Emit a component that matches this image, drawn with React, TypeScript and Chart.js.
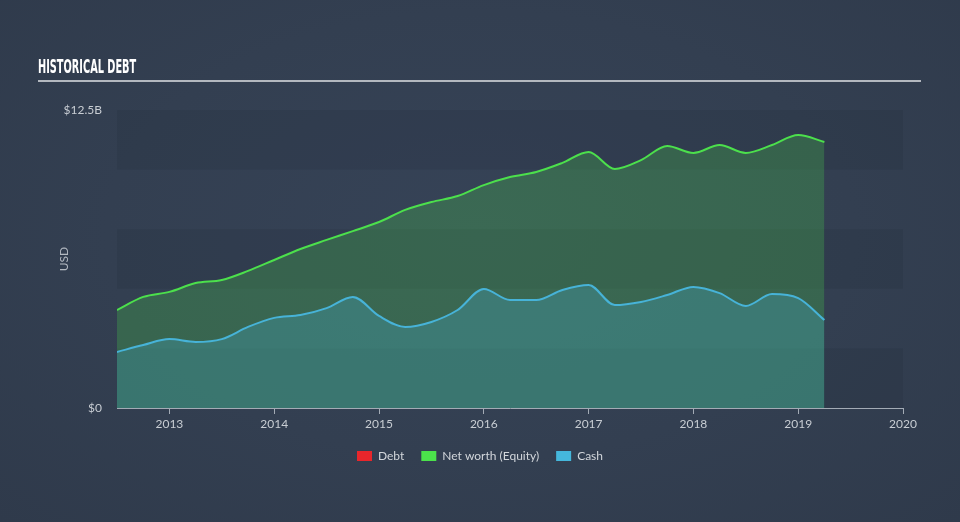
import React, { useEffect, useRef } from "react";
import { Chart, registerables } from "chart.js";

Chart.register(...registerables);

// Quarter-end periods (decimal years)
const periods = [
  2012.5, 2012.75, 2013.0, 2013.25, 2013.5, 2013.75, 2014.0, 2014.25, 2014.5, 2014.75,
  2015.0, 2015.25, 2015.5, 2015.75, 2016.0, 2016.25, 2016.5, 2016.75, 2017.0, 2017.25,
  2017.5, 2017.75, 2018.0, 2018.25, 2018.5, 2018.75, 2019.0, 2019.25,
];
// Values in USD billions
const netWorth = [
  4.11, 4.66, 4.87, 5.24, 5.37, 5.75, 6.21, 6.67, 7.05, 7.42,
  7.8, 8.31, 8.64, 8.89, 9.35, 9.69, 9.9, 10.28, 10.74, 10.03,
  10.4, 10.99, 10.7, 11.03, 10.7, 11.03, 11.45, 11.16,
];
const cash = [
  2.35, 2.64, 2.89, 2.77, 2.89, 3.4, 3.78, 3.9, 4.19, 4.66,
  3.86, 3.4, 3.61, 4.11, 4.99, 4.53, 4.53, 4.95, 5.16, 4.32,
  4.45, 4.74, 5.08, 4.82, 4.28, 4.78, 4.61, 3.69,
];
const debt: number[] = [];
const yearTicks = [2013, 2014, 2015, 2016, 2017, 2018, 2019, 2020];
const yTickLabels: Record<string, string> = { "0": "$0", "12.5": "$12.5B" };

const FONT = "Lato, 'Open Sans', 'DejaVu Sans', sans-serif";

const bandsPlugin = {
  id: "bands",
  beforeDatasetsDraw(chart: any) {
    const { ctx, chartArea } = chart;
    const y = chart.scales.y;
    const ranges = [
      [0, 2.5],
      [5, 7.5],
      [10, 12.5],
    ];
    ctx.save();
    ctx.fillStyle = "rgba(25,35,50,0.14)";
    for (const [a, b] of ranges) {
      const top = y.getPixelForValue(b);
      const bot = y.getPixelForValue(a);
      ctx.fillRect(chartArea.left, top, chartArea.right - chartArea.left, bot - top);
    }
    ctx.restore();
  },
};

export default function App() {
  const canvasRef = useRef<HTMLCanvasElement | null>(null);
  const titleRef = useRef<HTMLSpanElement | null>(null);

  useEffect(() => {
    if (titleRef.current) {
      const w = titleRef.current.offsetWidth;
      if (w > 0) titleRef.current.style.transform = `scaleX(${98 / w})`;
    }
    const canvas = canvasRef.current;
    if (!canvas) return;
    const toPts = (arr: number[]) => arr.map((v, i) => ({ x: periods[i], y: v }));
    const chart = new Chart(canvas, {
      type: "line",
      plugins: [bandsPlugin],
      data: {
        datasets: [
          {
            label: "Debt",
            data: toPts(debt),
            borderColor: "#e8262b",
            backgroundColor: "rgba(232,38,43,0.25)",
            borderWidth: 2,
            pointRadius: 0,
            order: 0,
          },
          {
            label: "Net worth (Equity)",
            data: toPts(netWorth),
            borderColor: "#4ce04c",
            backgroundColor: "rgba(76,224,76,0.24)",
            borderWidth: 2,
            pointRadius: 0,
            fill: "origin",
            cubicInterpolationMode: "monotone",
            order: 2,
          },
          {
            label: "Cash",
            data: toPts(cash),
            borderColor: "#47b3d8",
            backgroundColor: "rgba(70,180,218,0.25)",
            borderWidth: 2,
            pointRadius: 0,
            fill: "origin",
            cubicInterpolationMode: "monotone",
            order: 1,
          },
        ],
      },
      options: {
        animation: false,
        responsive: false,
        maintainAspectRatio: false,
        layout: { padding: { left: 0, right: 0, top: 110, bottom: 50 } },
        plugins: {
          tooltip: { enabled: false },
          legend: {
            position: "bottom",
            labels: {
              color: "#d2d6db",
              font: { family: FONT, size: 12 },
              boxWidth: 15,
              boxHeight: 10,
              padding: 17,
              generateLabels: () => [
                { text: "Debt", fillStyle: "#e8262b", strokeStyle: "#e8262b", lineWidth: 0, fontColor: "#d2d6db", datasetIndex: 0 },
                { text: "Net worth (Equity)", fillStyle: "#4be24b", strokeStyle: "#4be24b", lineWidth: 0, fontColor: "#d2d6db", datasetIndex: 1 },
                { text: "Cash", fillStyle: "#45b7dc", strokeStyle: "#45b7dc", lineWidth: 0, fontColor: "#d2d6db", datasetIndex: 2 },
              ] as any,
            },
          },
        },
        scales: {
          x: {
            type: "linear",
            min: 2012.5,
            max: 2020,
            afterBuildTicks: (scale: any) => {
              scale.ticks = yearTicks.map((v) => ({ value: v }));
            },
            afterFit: (scale: any) => {
              scale.height = 25;
            },
            ticks: {
              color: "#c8cdd3",
              font: { family: FONT, size: 12 },
              padding: 3,
              maxRotation: 0,
              autoSkip: false,
              callback: (v: any) => String(v),
            },
            grid: {
              display: true,
              drawOnChartArea: false,
              drawTicks: true,
              tickLength: 6,
              color: "#a3abb5",
            },
            border: { display: true, color: "#a3abb5", width: 1 },
          },
          y: {
            min: 0,
            max: 12.5,
            afterFit: (scale: any) => {
              scale.width = 117;
            },
            ticks: {
              stepSize: 2.5,
              color: "#c8cdd3",
              font: { family: FONT, size: 12 },
              padding: 15,
              callback: (v: any) => yTickLabels[String(v)] ?? "",
            },
            grid: { display: false, drawTicks: false },
            border: { display: false },
            title: {
              display: true,
              text: "USD",
              color: "#b4bac2",
              font: { family: FONT, size: 12 },
              padding: { top: 57, bottom: 0 },
            },
          },
          yRight: {
            position: "right",
            min: 0,
            max: 12.5,
            afterFit: (scale: any) => {
              scale.width = 57;
            },
            ticks: { display: false },
            grid: { display: false, drawTicks: false },
            border: { display: false },
          },
        },
      },
    });
    return () => chart.destroy();
  }, []);

  return (
    <div
      style={{
        position: "fixed",
        left: 0,
        top: 0,
        width: 960,
        height: 522,
        overflow: "hidden",
        background: "radial-gradient(ellipse at 50% 45%, #364357 0%, #333f51 55%, #2f3a4b 100%)",
      }}
    >
      <div
        style={{
          position: "absolute",
          left: 38,
          top: 56,
          height: 22,
          whiteSpace: "nowrap",
        }}
      >
        <span
          ref={titleRef}
          style={{
            display: "inline-block",
            transformOrigin: "left top",
            fontFamily: "'DejaVu Sans Condensed', 'Liberation Sans Narrow', sans-serif",
            fontWeight: 700,
            fontSize: 19.5,
            lineHeight: "22px",
            color: "#ffffff",
            letterSpacing: 0,
          }}
        >
          HISTORICAL DEBT
        </span>
      </div>
      <div
        style={{
          position: "absolute",
          left: 38,
          top: 80,
          width: 883,
          height: 2,
          background: "#b3b8bf",
        }}
      />
      <canvas ref={canvasRef} width={960} height={522} style={{ position: "absolute", left: 0, top: 0, width: 960, height: 522 }} />
    </div>
  );
}
